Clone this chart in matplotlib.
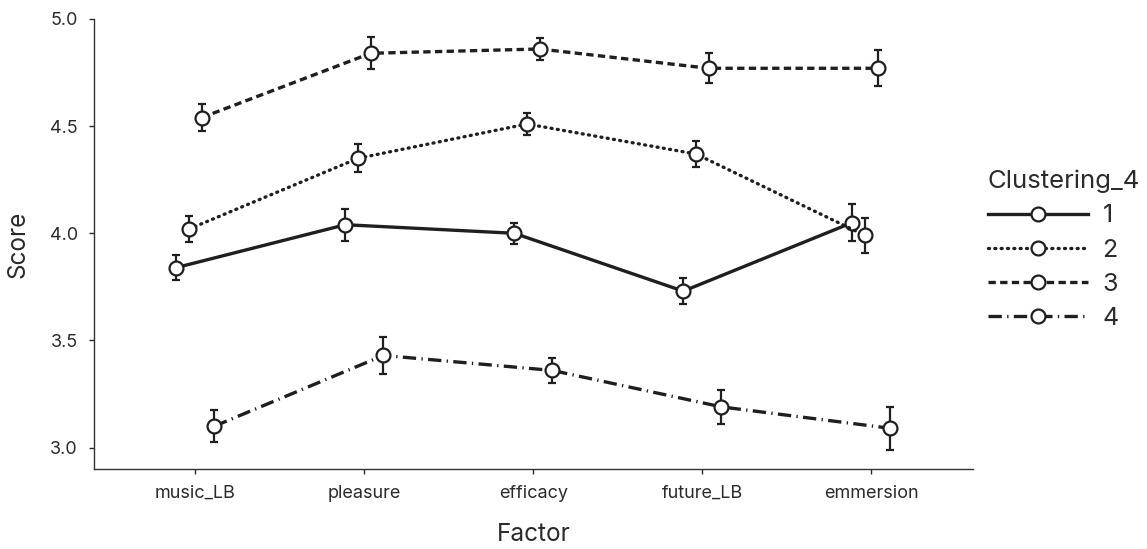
import matplotlib.pyplot as plt
import numpy as np
from matplotlib.lines import Line2D

plt.rcParams["font.family"] = ["Inter", "DejaVu Sans"]

# --- data ---------------------------------------------------------------
factors = ["music_LB", "pleasure", "efficacy", "future_LB", "emmersion"]
clusters = ["1", "2", "3", "4"]

mean_1 = [3.84, 4.04, 4.00, 3.73, 4.05]
mean_2 = [4.02, 4.35, 4.51, 4.37, 3.99]
mean_3 = [4.54, 4.84, 4.86, 4.77, 4.77]
mean_4 = [3.10, 3.43, 3.36, 3.19, 3.09]

err_1 = [0.06, 0.075, 0.05, 0.06, 0.085]
err_2 = [0.06, 0.065, 0.05, 0.06, 0.08]
err_3 = [0.065, 0.075, 0.05, 0.07, 0.085]
err_4 = [0.075, 0.085, 0.06, 0.08, 0.10]

means = [mean_1, mean_2, mean_3, mean_4]
errs = [err_1, err_2, err_3, err_4]

# --- styling ------------------------------------------------------------
INK = "#1f1f1f"
TXT = "#2b2b2b"
dodge = [-0.1125, -0.0375, 0.0375, 0.1125]
dashes = [None, (0.3, 1.6), (2.2, 1.3), (4.0, 1.6, 0.4, 1.6)]
caps = ["butt", "round", "butt", "butt"]

fig = plt.figure(figsize=(11.47, 5.49), dpi=100)
ax = fig.add_axes([0.082, 0.1457, 0.766, 0.8197])


def styled(line, i):
    if dashes[i] is not None:
        line.set_dashes(dashes[i])
        line.set_dash_capstyle(caps[i])
    return line


x = np.arange(len(factors))
handles = []
for i, lab in enumerate(clusters):
    xs = x + dodge[i]
    ax.errorbar(xs, means[i], yerr=errs[i], fmt="none", ecolor=INK,
                elinewidth=1.6, capsize=3, capthick=1.6, zorder=2)
    line, = ax.plot(xs, means[i], color=INK, lw=2.4, zorder=3,
                    marker="o", ms=10, mfc="white", mec=INK, mew=1.6,
                    solid_capstyle="butt")
    styled(line, i)
    h = Line2D([], [], color=INK, lw=2.4, marker="o", ms=10, mfc="white",
               mec=INK, mew=1.6)
    handles.append(styled(h, i))

ax.set_xticks(x)
ax.set_xticklabels(factors)
ax.set_yticks([3.0, 3.5, 4.0, 4.5, 5.0])
ax.set_yticklabels(["3.0", "3.5", "4.0", "4.5", "5.0"])
ax.set_xlim(-0.6, 4.6)
ax.set_ylim(2.9, 5.0)

ax.tick_params(axis="both", labelsize=13, colors=TXT, length=3.6,
               width=1.0, pad=8)
ax.set_xlabel("Factor", fontsize=17.5, color=TXT, va="center")
ax.set_ylabel("Score", fontsize=17.5, color=TXT, va="center")
ax.xaxis.set_label_coords(0.5, -0.145)
ax.yaxis.set_label_coords(-0.087, 0.5)

for side in ["top", "right"]:
    ax.spines[side].set_visible(False)
for side in ["left", "bottom"]:
    ax.spines[side].set_color("#333333")
    ax.spines[side].set_linewidth(1.0)

leg = fig.legend(handles, clusters, title="Clustering_4", loc="upper left",
                 bbox_to_anchor=(0.861, 0.691), frameon=False, fontsize=18,
                 title_fontsize=18.5, handlelength=4.0, numpoints=1,
                 labelspacing=0.45, handletextpad=0.6, alignment="left",
                 borderpad=0, borderaxespad=0)
for t in leg.get_texts():
    t.set_color(TXT)
leg.get_title().set_color(TXT)

fig.savefig("out.png", dpi=100)
